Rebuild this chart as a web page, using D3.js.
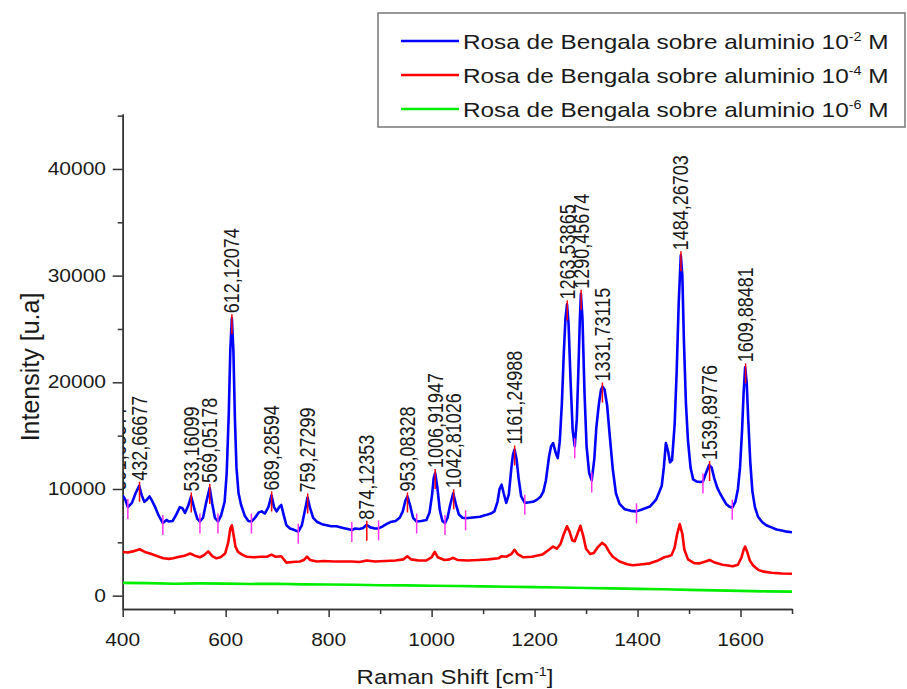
<!DOCTYPE html>
<meta charset="utf-8">
<style>
body { margin: 0; background: #fff; }
text { font-family: "Liberation Sans", Arial, sans-serif; fill: #1a1a1a; }
.axis path, .axis line { stroke: #333; stroke-width: 1.5px; fill: none; }
.spec { fill: none; stroke-width: 2.6px; stroke-linejoin: round; }
</style>
<svg width="907" height="689"></svg>
<script src="https://d3js.org/d3.v7.min.js"></script>
<script>

// Raman shift [cm-1], intensity [u.a]
var blue = [
  [400,9400],[405,9000],[410,8300],[418,8700],[425,9600],[432,10300],[437,9400],[442,8800],
  [447,9000],[452,9300],[457,8900],[463,8300],[470,7500],[478,6800],[485,7100],[490,6950],
  [497,7000],[504,7600],[511,8300],[516,8200],[521,7750],[527,8400],[533,9300],[540,8000],
  [545,7200],[550,6950],[556,7300],[562,8700],[569,10100],[574,8600],[579,7300],[585,6950],
  [591,7500],[598,8800],[602,11500],[606,17000],[609,23000],[612,26000],[615,23000],[618,16500],
  [621,12000],[625,9600],[630,8500],[637,7500],[644,7000],[650,6950],[657,7300],[664,7800],
  [670,7900],[676,7700],[683,8300],[689,9400],[694,8300],[699,7900],[704,8300],[708,8500],
  [713,7500],[718,6600],[725,6300],[731,6200],[741,6000],[748,6600],[754,8000],[759,9200],
  [764,8200],[770,7300],[778,6900],[787,6700],[796,6600],[805,6500],[815,6500],[828,6350],
  [837,6250],[845,6150],[852,6300],[860,6250],[867,6350],[874,6650],[881,6400],[890,6300],
  [897,6300],[905,6500],[912,6700],[920,6900],[930,7000],[938,7300],[944,7900],[949,8900],
  [953,9300],[958,8500],[964,7300],[971,6950],[980,7000],[990,7100],[996,7800],[1001,9500],
  [1004,11000],[1007,11500],[1011,10200],[1016,8000],[1021,7000],[1026,6800],[1031,7300],[1036,8500],
  [1042,9600],[1047,8600],[1053,7600],[1060,7300],[1066,7250],[1075,7300],[1085,7350],[1094,7400],
  [1105,7550],[1115,7700],[1122,7900],[1128,8800],[1132,10000],[1136,10400],[1140,9600],[1145,8700],
  [1150,9500],[1155,12000],[1158,13200],[1161,13700],[1165,12800],[1169,11000],[1174,9300],[1181,8700],
  [1190,8750],[1197,8800],[1205,9000],[1212,9300],[1217,9750],[1222,10800],[1228,13000],[1232,14000],
  [1236,14300],[1241,13400],[1245,12900],[1249,14500],[1253,18000],[1257,23000],[1260,26000],[1263,27300],
  [1266,25500],[1270,20000],[1274,15500],[1278,14000],[1282,16500],[1285,21000],[1288,26000],[1290,28300],
  [1293,26000],[1297,19000],[1301,14000],[1306,11500],[1311,10800],[1316,12800],[1320,15800],[1325,18000],
  [1329,19300],[1332,19600],[1336,19300],[1341,17800],[1346,15000],[1352,11800],[1358,9600],[1365,8600],
  [1375,8100],[1387,7950],[1398,7900],[1410,8100],[1424,8350],[1436,9000],[1442,9700],[1447,10300],
  [1451,12000],[1455,14300],[1459,13600],[1463,12500],[1467,12700],[1472,16000],[1476,21000],[1480,27500],
  [1484,31900],[1487,30000],[1490,24000],[1494,18000],[1498,14500],[1503,12000],[1508,10900],[1515,10700],
  [1521,10650],[1527,10700],[1533,11500],[1539,12250],[1544,12000],[1549,11000],[1555,10100],[1560,9600],
  [1566,9100],[1572,8600],[1578,8350],[1584,8250],[1590,8800],[1595,10000],[1599,12000],[1603,15500],
  [1606,19000],[1609,21400],[1612,20000],[1615,16500],[1619,12500],[1623,9800],[1628,8300],[1634,7400],
  [1642,6900],[1650,6600],[1660,6400],[1670,6200],[1680,6100],[1690,6000],[1700,5950]
];

var red = [
  [400,4100],[410,4050],[420,4150],[433,4350],[443,4100],[453,3950],[465,3750],[479,3500],
  [490,3450],[498,3500],[510,3650],[520,3750],[531,3950],[540,3750],[550,3600],[558,3800],
  [566,4150],[574,3700],[582,3500],[590,3600],[599,3950],[605,5000],[609,6300],[612,6600],
  [615,5800],[619,4600],[624,4100],[632,3850],[641,3650],[655,3600],[668,3650],[680,3650],
  [689,3850],[697,3650],[708,3700],[718,3100],[730,3150],[744,3200],[752,3350],[758,3650],
  [764,3350],[777,3200],[790,3250],[810,3200],[830,3200],[845,3200],[860,3150],[874,3300],
  [890,3200],[910,3250],[930,3300],[945,3400],[953,3700],[960,3400],[975,3300],[990,3300],
  [1000,3600],[1006,4100],[1012,3600],[1025,3350],[1035,3400],[1042,3550],[1050,3350],[1070,3300],
  [1090,3350],[1110,3400],[1130,3500],[1136,3700],[1145,3650],[1155,3900],[1161,4300],[1167,3900],
  [1178,3600],[1195,3650],[1215,3850],[1228,4300],[1236,4600],[1243,4400],[1250,4800],[1257,5800],
  [1263,6500],[1268,6000],[1273,5200],[1278,5100],[1284,5900],[1289,6550],[1294,5700],[1300,4400],
  [1308,3900],[1315,4000],[1322,4500],[1331,4950],[1338,4700],[1345,4100],[1352,3650],[1365,3200],
  [1380,2950],[1391,2850],[1410,2950],[1424,3030],[1440,3300],[1452,3600],[1460,3700],[1466,3800],
  [1472,4500],[1477,5800],[1482,6700],[1487,5800],[1491,4300],[1498,3400],[1510,3050],[1521,3030],
  [1532,3200],[1540,3350],[1550,3100],[1565,2900],[1585,2750],[1595,2900],[1602,3600],[1606,4300],
  [1609,4600],[1613,4100],[1618,3300],[1625,2800],[1635,2400],[1645,2250],[1660,2150],[1680,2080],
  [1700,2050]
];

var green = [
  [400,1200],[450,1180],[500,1120],[550,1150],[600,1130],[650,1100],[700,1120],[750,1060],
  [800,1050],[850,1020],[900,980],[950,960],[1000,930],[1050,900],[1100,870],[1150,840],
  [1200,800],[1250,760],[1300,720],[1350,680],[1400,640],[1450,600],[1500,540],[1550,500],
  [1600,450],[1650,400],[1700,380]
];

var peaks = [391.05577, 432.66677, 533.16099, 569.05178, 612.12074, 689.28594, 759.27299,
  874.12353, 953.08328, 1006.91947, 1042.81026, 1161.24988, 1263.53865, 1290.45674,
  1331.73115, 1484.26703, 1539.89776, 1609.88481];
var valleys = [410, 478, 550, 585, 650, 741, 845, 897, 971, 1026, 1066, 1181, 1278, 1311, 1398, 1527, 1584];

var xTicks = [400, 600, 800, 1000, 1200, 1400, 1600],
    xMinor = [500, 700, 900, 1100, 1300, 1500, 1700],
    yTicks = [0, 10000, 20000, 30000, 40000],
    yMinor = [5000, 15000, 25000, 35000, 45000];

var legendNames = ["Rosa de Bengala sobre aluminio 10", "Rosa de Bengala sobre aluminio 10", "Rosa de Bengala sobre aluminio 10"],
    legendExp = ["-2", "-4", "-6"],
    colors = ["#0000ff", "#ff0000", "#00ee00"];

var svg = d3.select("svg");

var x = d3.scaleLinear().domain([400, 1700]).range([122.7, 792]),
    y = d3.scaleLinear().domain([-1250, 45150]).range([609, 114]);

var stretch = "scale(1.2,1)";

svg.append("defs").append("clipPath").attr("id", "plot")
  .append("rect").attr("x", 123).attr("y", 0).attr("width", 680).attr("height", 609);

// axes
svg.append("g").attr("class", "axis").attr("transform", "translate(0,609)")
    .call(d3.axisBottom(x).tickValues(xTicks).tickSize(8).tickSizeOuter(0).tickFormat(""));
svg.append("g").attr("class", "axis").attr("transform", "translate(0,609)")
    .call(d3.axisBottom(x).tickValues(xMinor).tickSize(5).tickSizeOuter(0).tickFormat(""));
svg.append("g").attr("class", "axis").attr("transform", "translate(122.7,0)")
    .call(d3.axisLeft(y).tickValues(yTicks).tickSize(10).tickSizeOuter(0).tickFormat(""));
svg.append("g").attr("class", "axis").attr("transform", "translate(122.7,0)")
    .call(d3.axisLeft(y).tickValues(yMinor).tickSize(5).tickSizeOuter(0).tickFormat(""));

svg.append("g").selectAll("text").data(xTicks).enter().append("text")
    .attr("transform", function(d) { return "translate(" + x(d) + ",646) " + stretch; })
    .attr("text-anchor", "middle")
    .style("font-size", "17.5px")
    .text(function(d) { return d; });

svg.append("g").selectAll("text").data(yTicks).enter().append("text")
    .attr("transform", function(d) { return "translate(106," + (y(d) + 6) + ") " + stretch; })
    .attr("text-anchor", "end")
    .style("font-size", "17.5px")
    .text(function(d) { return d; });

// axis titles
var xt = svg.append("text")
    .attr("transform", "translate(455,684) " + stretch)
    .attr("text-anchor", "middle")
    .style("font-size", "20px");
xt.append("tspan").text("Raman Shift [cm");
xt.append("tspan").attr("dy", -8).style("font-size", "12px").text("-1");
xt.append("tspan").attr("dy", 8).text("]");

svg.append("text")
    .attr("transform", "translate(39,367) scale(1.05,1) rotate(-90)")
    .attr("text-anchor", "middle")
    .style("font-size", "25px")
    .text("Intensity [u.a]");

// spectra
var line = d3.line()
    .x(function(d) { return x(d[0]); })
    .y(function(d) { return y(d[1]); });

var plot = svg.append("g").attr("clip-path", "url(#plot)");

[green, red, blue].forEach(function(s, i) {
  plot.append("path").datum(s)
      .attr("class", "spec")
      .attr("stroke", colors[2 - i])
      .attr("d", line);
});

function nearest(v) {
  var best = blue[0];
  blue.forEach(function(d) { if (Math.abs(d[0] - v) < Math.abs(best[0] - v)) best = d; });
  return best;
}

function peakTop(v) {
  var best = nearest(v);
  blue.forEach(function(d) { if (Math.abs(d[0] - v) <= 4 && d[1] > best[1]) best = d; });
  return best;
}

// baseline anchor markers
plot.append("g").selectAll("line").data(valleys).enter().append("line")
    .attr("x1", function(d) { return x(d); })
    .attr("x2", function(d) { return x(d); })
    .attr("y1", function(d) { return y(nearest(d)[1]) - 8; })
    .attr("y2", function(d) { return y(nearest(d)[1]) + 12; })
    .attr("stroke", "#ff33ee")
    .attr("stroke-width", 1.5);

// peak markers and labels
var pk = plot.append("g").selectAll("g").data(peaks).enter().append("g");

pk.append("line")
    .attr("x1", function(d) { return x(d); })
    .attr("x2", function(d) { return x(d); })
    .attr("y1", function(d) { return y(peakTop(d)[1]) - 4; })
    .attr("y2", function(d) { return y(peakTop(d)[1]) + 16; })
    .attr("stroke", "#ff0000")
    .attr("stroke-width", 1.5);

pk.append("text")
    .attr("transform", function(d) {
      return "translate(" + (x(d) + 7.5) + "," + (y(peakTop(d)[1]) - 5) + ") " + stretch + " rotate(-90)";
    })
    .style("font-size", "18px")
    .text(function(d) { return d.toFixed(5).replace(".", ","); });

// legend
var legend = svg.append("g");
legend.append("rect")
    .attr("x", 378).attr("y", 13).attr("width", 527).attr("height", 114)
    .attr("fill", "#fff").attr("stroke", "#777").attr("stroke-width", 1.5);

var row = legend.selectAll("g.row").data(legendNames).enter().append("g")
    .attr("class", "row")
    .attr("transform", function(d, i) { return "translate(0," + (41 + i * 34) + ")"; });

row.append("line")
    .attr("x1", 401).attr("x2", 459)
    .attr("stroke", function(d, i) { return colors[i]; })
    .attr("stroke-width", 2.6);

var lt = row.append("text")
    .attr("transform", "translate(463,7.5) scale(1.2,1)")
    .style("font-size", "20.3px");
lt.append("tspan").text(function(d) { return d; });
lt.append("tspan").attr("dy", -8).style("font-size", "12px").text(function(d, i) { return legendExp[i]; });
lt.append("tspan").attr("dy", 8).text(" M");

</script>
